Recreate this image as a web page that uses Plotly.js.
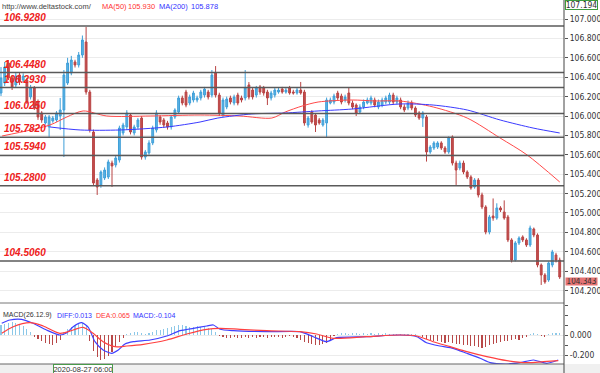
<!DOCTYPE html>
<html><head><meta charset="utf-8">
<script src="https://cdn.plot.ly/plotly-3.0.1.min.js"></script>
<style>html,body{margin:0;padding:0;background:#fff}#chart{width:600px;height:373px}</style>
</head><body><div id="chart"></div>
<script>
const openP=[106.237,106.340,106.546,106.392,106.320,106.423,106.371,106.371,106.196,106.289,
106.144,106.031,105.928,105.887,105.949,105.959,106.000,106.062,106.340,106.443,
106.557,106.526,106.629,106.763,106.247,105.835,105.340,105.289,105.361,105.371,
105.515,105.495,105.546,105.825,105.887,106.010,105.825,105.887,105.979,105.577,
105.619,105.722,105.856,105.990,105.959,105.928,105.887,105.990,106.041,106.186,
106.247,106.134,106.165,106.165,106.186,106.216,106.247,106.216,106.443,106.216,
106.010,106.093,106.186,106.134,106.216,106.186,106.186,106.320,106.268,106.216,
106.299,106.289,106.247,106.186,106.216,106.247,106.278,106.247,106.289,106.247,
106.237,106.268,106.247,105.907,106.041,106.010,105.959,105.907,105.928,106.134,
106.144,106.237,106.206,106.165,106.237,106.134,106.113,106.041,106.093,106.134,
106.134,106.165,106.093,106.113,106.144,106.144,106.216,106.144,106.165,106.093,
106.082,106.134,106.082,106.031,105.979,105.990,105.629,105.670,105.680,105.722,
105.670,105.629,105.784,105.515,105.464,105.515,105.423,105.371,105.268,105.340,
105.186,105.062,104.804,104.969,104.948,105.052,105.010,104.959,104.722,104.515,
104.691,104.753,104.722,104.670,104.835,104.773,104.464,104.361,104.309,104.464,
104.567,104.515];
const highP=[106.505,106.557,106.577,106.423,106.450,106.450,106.440,106.392,106.320,106.309,
106.170,106.050,106.010,106.010,106.000,106.050,106.186,106.474,106.600,106.620,
106.580,106.660,106.830,106.918,106.270,105.860,105.360,105.440,105.470,105.550,
105.540,105.590,105.900,105.930,106.060,106.030,105.910,105.980,106.000,105.650,
105.750,105.900,106.060,106.010,105.980,105.950,106.010,106.080,106.210,106.210,
106.270,106.220,106.260,106.210,106.270,106.300,106.270,106.474,106.515,106.240,
106.190,106.200,106.210,106.220,106.240,106.210,106.474,106.350,106.290,106.310,
106.320,106.310,106.270,106.260,106.290,106.290,106.300,106.290,106.310,106.270,
106.290,106.351,106.270,106.000,106.060,106.030,105.980,105.980,106.190,106.190,
106.230,106.260,106.230,106.220,106.289,106.160,106.130,106.120,106.170,106.190,
106.210,106.190,106.170,106.190,106.210,106.240,106.240,106.210,106.190,106.120,
106.160,106.160,106.100,106.050,106.050,106.010,105.700,105.740,105.740,105.740,
105.690,105.790,105.800,105.540,105.540,105.540,105.440,105.390,105.360,105.360,
105.210,105.080,104.980,105.150,105.100,105.070,105.130,104.980,104.740,104.710,
104.760,104.770,104.740,104.870,104.850,104.790,104.480,104.380,104.500,104.620,
104.590,104.540];
const lowP=[106.206,106.309,106.371,106.268,106.289,106.320,106.350,106.124,106.170,106.062,
105.960,105.930,105.910,105.784,105.930,105.940,105.856,105.577,106.320,106.420,
106.500,106.500,106.600,106.220,105.830,105.280,105.186,105.260,105.340,105.350,
105.268,105.470,105.520,105.800,105.860,105.810,105.800,105.860,105.550,105.550,
105.600,105.700,105.830,105.910,105.880,105.860,105.860,105.970,106.020,106.110,
106.090,106.110,106.140,106.140,106.160,106.190,106.170,106.190,106.190,106.000,
105.990,106.070,106.120,106.110,106.110,106.140,106.160,106.170,106.170,106.190,
106.220,106.210,106.113,106.160,106.190,106.230,106.230,106.230,106.220,106.220,
106.220,106.220,105.900,105.880,105.920,105.835,105.910,105.890,105.784,106.120,
106.120,106.160,106.120,106.140,106.110,106.070,106.000,106.020,106.070,106.120,
106.110,106.090,106.070,106.090,106.120,106.120,106.120,106.120,106.070,106.040,
106.060,106.060,105.990,105.960,105.887,105.530,105.610,105.650,105.660,105.650,
105.610,105.610,105.490,105.289,105.440,105.400,105.350,105.240,105.250,105.160,
105.040,104.780,104.780,104.920,104.930,105.010,104.930,104.700,104.490,104.500,
104.670,104.700,104.650,104.650,104.750,104.440,104.258,104.270,104.290,104.440,
104.490,104.320];
const closeP=[106.392,106.505,106.392,106.299,106.412,106.351,106.412,106.144,106.289,106.082,
105.990,105.959,105.990,105.990,105.979,106.031,106.062,106.423,106.546,106.577,
106.526,106.629,106.784,106.247,105.856,105.309,105.268,105.423,105.443,105.526,
105.485,105.567,105.876,105.907,106.031,105.835,105.887,105.959,105.577,105.629,
105.722,105.876,106.031,105.938,105.907,105.887,105.990,106.062,106.186,106.134,
106.113,106.196,106.237,106.186,106.247,106.278,106.196,106.423,106.216,106.031,
106.165,106.175,106.144,106.196,106.134,106.165,106.289,106.196,106.196,106.289,
106.247,106.237,106.186,106.237,106.268,106.268,106.247,106.268,106.237,106.237,
106.268,106.237,105.928,105.979,105.938,105.907,105.928,105.959,106.165,106.165,
106.206,106.186,106.144,106.196,106.134,106.093,106.031,106.093,106.144,106.165,
106.186,106.113,106.144,106.165,106.186,106.216,106.144,106.186,106.093,106.062,
106.134,106.082,106.010,105.979,106.031,105.629,105.680,105.722,105.722,105.670,
105.629,105.773,105.515,105.443,105.515,105.423,105.371,105.258,105.340,105.186,
105.062,104.804,104.959,104.948,105.052,105.031,104.948,104.722,104.515,104.691,
104.742,104.722,104.670,104.845,104.773,104.464,104.361,104.289,104.485,104.598,
104.515,104.340];

const ma50X=[0.3,13.2,17.8,22.2,28.6,40.3,53.8,64.6,73.2,76.8,81.4,85.7,94.9,101.1,107.8,116.8,126,134.9,142.2,151];
const ma50Y=[105.794,105.907,105.990,106.052,106.000,106.000,106.010,106.000,105.979,106.041,106.103,106.144,106.165,106.155,106.155,106.093,105.979,105.773,105.598,105.320];
const ma200X=[13.2,21.4,32.2,44.9,53.8,58.6,67.8,76.8,85.7,94.9,107.8,116.8,126,134.9,143.8,151];
const ma200Y=[105.887,105.856,105.856,105.887,105.938,105.979,106.021,106.031,106.052,106.072,106.124,106.113,106.062,105.959,105.876,105.825];

const diffX=[0.2,2.4,5.6,8.7,12.3,15.9,17.8,19.5,21.8,23.6,25.4,27.6,29.9,31.7,33.5,35.8,40.3,44.8,48.4,52,55.6,57.4,59.2,62.8,71.8,80.8,84.4,88,90.7,98.8,107.8,112.4,115,118.6,122.2,125.9,129.5,132.2,136.7,140.3,143.9,147.5,150.6];
const diffY=[0.117,0.15,0.157,0.117,0.05,0.0,0.023,0.083,0.123,0.077,-0.067,-0.15,-0.183,-0.15,-0.09,-0.067,-0.05,-0.01,0.043,0.067,0.09,0.10,0.057,0.043,0.033,0.033,-0.017,-0.067,-0.027,-0.017,0.0,-0.017,-0.077,-0.11,-0.133,-0.183,-0.233,-0.277,-0.29,-0.277,-0.25,-0.283,-0.25];
const deaX=[0.2,3.3,7.8,11.4,15.9,19.5,22.2,24.9,27.6,30.8,34,38.5,44.8,50.2,55.6,59.2,64.6,71.8,80.8,85.3,89.8,98.8,107.8,112.4,116.8,121.4,125.9,131.3,136.7,142.1,146.6,150.6];
const deaY=[0.017,0.083,0.123,0.09,0.017,0.05,0.077,0.017,-0.067,-0.117,-0.11,-0.093,-0.05,0.01,0.057,0.067,0.057,0.043,0.033,0.01,-0.033,-0.017,0.0,-0.01,-0.067,-0.117,-0.167,-0.217,-0.257,-0.277,-0.267,-0.257];
const macdHist=[0.10,0.11,0.12,0.13,0.12,0.11,0.09,0.06,0.03,-0.02,
-0.04,-0.06,-0.08,-0.09,-0.10,-0.08,-0.05,0.03,0.06,0.08,
0.10,0.11,0.12,0.09,-0.06,-0.16,-0.22,-0.25,-0.24,-0.21,
-0.17,-0.12,-0.07,-0.03,0.01,0.02,0.03,0.03,0.02,0.01,
0.02,0.03,0.05,0.05,0.06,0.07,0.08,0.09,0.10,0.10,
0.09,0.08,0.08,0.09,0.08,0.08,0.07,0.06,0.03,-0.01,
-0.02,-0.03,-0.03,-0.02,-0.03,-0.03,-0.02,-0.03,-0.02,-0.03,
-0.02,-0.02,-0.03,-0.02,-0.02,-0.02,-0.03,-0.02,-0.01,-0.02,
-0.03,-0.05,-0.07,-0.08,-0.09,-0.10,-0.10,-0.09,-0.08,-0.05,
-0.01,0.01,0.02,0.02,0.01,0.02,0.02,0.01,0.02,0.01,
0.02,0.01,0.02,0.01,0.02,0.01,0.01,0.01,0.01,0.01,
0.01,0.01,0.01,0.00,-0.02,-0.04,-0.05,-0.06,-0.06,-0.07,
-0.08,-0.07,-0.08,-0.09,-0.09,-0.10,-0.10,-0.11,-0.11,-0.12,
-0.13,-0.12,-0.10,-0.09,-0.08,-0.07,-0.06,-0.06,-0.05,-0.04,
-0.05,-0.03,-0.02,0.01,0.02,0.01,-0.01,-0.02,0.01,0.02,
0.02,0.02];

const levels=[106.928,106.448,106.293,106.025,105.782,105.594,105.280,104.506];
const levelLabels=["106.9280","106.4480","106.2930","106.0250","105.7820","105.5940","105.2800","104.5060"];
const priceTicks=[104.2,104.4,104.6,104.8,105.0,105.2,105.4,105.6,105.8,106.0,106.2,106.4,106.6,106.8,107.0];
const macdTicks=[-0.2,0];
const lastPrice=104.343, topPrice="107.194";
const dateLabel="2020-08-27 06:00";

const idx=closeP.map((_,i)=>i);
const W=600,H=373;
const py=p=>1-p/H, px=p=>p/W;
const tickFont={family:"Liberation Sans Narrow, Arial Narrow, DejaVu Sans Condensed, sans-serif",size:8.5,color:"#333"};

const traces=[
 {type:"candlestick",x:idx,open:openP,high:highP,low:lowP,close:closeP,xaxis:"x",yaxis:"y",
  increasing:{line:{color:"#3f9fd8",width:1},fillcolor:"#5ab3e6"},
  decreasing:{line:{color:"#b94444",width:1},fillcolor:"#c24e4e"},
  whiskerwidth:0,hoverinfo:"none"},
 {type:"scatter",mode:"lines",x:ma50X,y:ma50Y,xaxis:"x",yaxis:"y",line:{color:"#ff4a4a",width:1,shape:"spline",smoothing:0.8},hoverinfo:"none"},
 {type:"scatter",mode:"lines",x:ma200X,y:ma200Y,xaxis:"x",yaxis:"y",line:{color:"#3a3aff",width:1,shape:"spline",smoothing:0.8},hoverinfo:"none"},
 {type:"bar",x:idx,y:macdHist,xaxis:"x2",yaxis:"y2",width:0.28,
  marker:{color:macdHist.map(v=>v>=0?"#8cc8e8":"#b84848"),line:{width:0}},hoverinfo:"none"},
 {type:"scatter",mode:"lines",x:diffX,y:diffY,xaxis:"x2",yaxis:"y2",line:{color:"#4040ff",width:1.2,shape:"spline",smoothing:0.6},hoverinfo:"none"},
 {type:"scatter",mode:"lines",x:deaX,y:deaY,xaxis:"x2",yaxis:"y2",line:{color:"#ff4040",width:1.2,shape:"spline",smoothing:0.8},hoverinfo:"none"}
];

const xr=[-0.27,152.16];
const shapes=[];
levels.forEach(l=>shapes.push({type:"line",xref:"paper",yref:"y",x0:0,x1:0.94,y0:l,y1:l,line:{color:"#5a5a5a",width:1.5},layer:"above"}));
shapes.push({type:"line",xref:"paper",yref:"paper",x0:0,x1:0.94,y0:py(303),y1:py(303),line:{color:"#777",width:1}});
shapes.push({type:"rect",xref:"paper",yref:"paper",x0:0,x1:1,y0:0,y1:py(364),fillcolor:"#f0f0f0",line:{width:0}});
shapes.push({type:"line",xref:"paper",yref:"paper",x0:0,x1:0.94,y0:py(364),y1:py(364),line:{color:"#666",width:1}});
shapes.push({type:"line",xref:"paper",yref:"paper",x0:0.94,x1:0.94,y0:0,y1:1,line:{color:"#444",width:1}});

const ann=[];
levels.forEach((l,i)=>ann.push({xref:"paper",yref:"y",x:px(2),y:l,xanchor:"left",yanchor:"bottom",yshift:1,showarrow:false,
  text:"<b><i>"+levelLabels[i]+"</i></b>",font:{family:"Liberation Sans, Arial",size:10,color:"#ee2020"}}));
const hdr=(t,x,y,c,s)=>({xref:"paper",yref:"paper",x:px(x),y:py(y),xanchor:"left",yanchor:"middle",showarrow:false,text:t,borderpad:0,font:{family:"Liberation Sans, Arial",size:s,color:c}});
ann.push(hdr("http://www.deltastock.com/",1,6,"#444",7.5));
ann.push(hdr("MA(50)",101,6,"#ff3333",7.5));
ann.push(hdr("105.930",127,6,"#ff3333",7.5));
ann.push(hdr("MA(200)",158,6,"#3333ff",7.5));
ann.push(hdr("105.878",190,6,"#3333ff",7.5));
ann.push(hdr("MACD(26.12.9)",2,315,"#333",7));
ann.push(hdr("DIFF:0.013",56,315,"#3333ff",7));
ann.push(hdr("DEA:0.065",95,315,"#ff3333",7));
ann.push(hdr("MACD:-0.104",132,315,"#3333ff",7));
ann.push({xref:"paper",yref:"paper",x:px(565),y:1,xanchor:"left",yanchor:"top",showarrow:false,text:topPrice,
  font:tickFont,bgcolor:"#fff",bordercolor:"#3c9a3c",borderwidth:1,borderpad:0,width:31,height:8});
ann.push({xref:"paper",yref:"y",x:px(565),y:lastPrice,xanchor:"left",yanchor:"middle",yshift:-4.5,showarrow:false,text:lastPrice.toFixed(3),
  font:{family:tickFont.family,size:8,color:"#333"},bgcolor:"#e57373",borderpad:0,width:31,height:7});
ann.push({xref:"paper",yref:"paper",x:px(83),y:py(368.5),xanchor:"center",yanchor:"middle",showarrow:false,text:dateLabel,
  font:{family:"Liberation Sans, Arial",size:7.5,color:"#333"},bgcolor:"#fff",bordercolor:"#4a9a4a",borderwidth:1,borderpad:0,width:58,height:8});

const layout={
 width:W,height:H,margin:{l:0,r:0,t:0,b:0},paper_bgcolor:"#fff",plot_bgcolor:"#fff",showlegend:false,
 xaxis:{domain:[0,0.94],range:xr,visible:false,rangeslider:{visible:false},anchor:"y",fixedrange:true},
 xaxis2:{domain:[0,0.94],range:xr,visible:false,anchor:"y2",fixedrange:true},
 yaxis:{domain:[py(303),1],range:[104.072,107.196],side:"right",anchor:"x",tickvals:priceTicks,ticktext:priceTicks.map(v=>v.toFixed(3)),
  ticks:"outside",ticklen:3,tickcolor:"#555",tickfont:tickFont,showgrid:true,gridcolor:"#ececec",zeroline:false,showline:false},
 yaxis2:{domain:[py(364),py(305)],range:[-0.29,0.30],side:"right",anchor:"x2",tickvals:macdTicks,ticktext:macdTicks.map(v=>v.toFixed(3)),
  ticks:"outside",ticklen:3,tickcolor:"#555",tickfont:tickFont,showgrid:true,gridcolor:"#ececec",zeroline:false,showline:false,
  minor:{dtick:0.1,ticks:"outside",ticklen:3,tickcolor:"#555",showgrid:false}},
 shapes:shapes,annotations:ann,bargap:0
};
Plotly.newPlot("chart",traces,layout,{staticPlot:true,displayModeBar:false});
</script></body></html>
